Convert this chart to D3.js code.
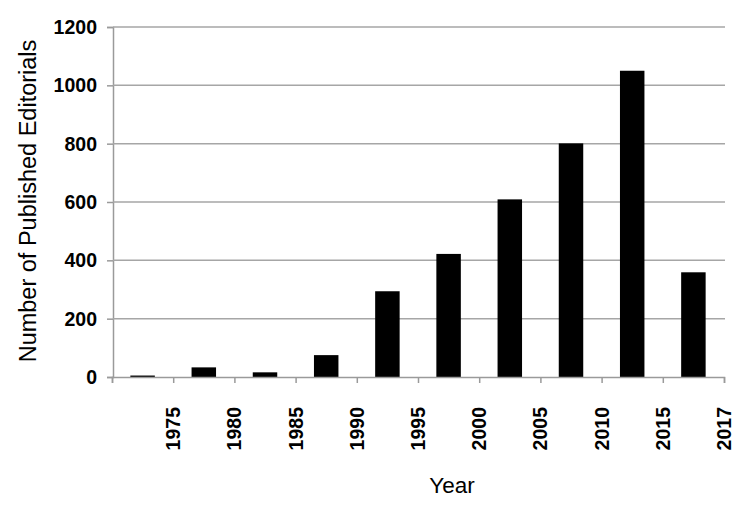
<!DOCTYPE html>
<html><head>
<meta charset="utf-8">
<script src="https://d3js.org/d3.v7.min.js"></script>
<style>
  body { margin: 0; background: #fff; }
  svg text { font-family: "Liberation Sans", Arial, sans-serif; fill: #000; }
  .tick-label { font-weight: bold; }
</style>
</head>
<body>
<svg id="chart" width="750" height="508"></svg>
<script>

// data
const periodEnds = ["1975", "1980", "1985", "1990", "1995", "2000", "2005", "2010", "2015", "2017"];
const editorials = [5, 33, 16, 75, 294, 422, 609, 801, 1050, 359];
const yTicks = [0, 200, 400, 600, 800, 1000, 1200];

const svg = d3.select("#chart");
const plot = {left: 112, right: 724, top: 27, bottom: 377};

// boundaries 0..10, labels sit on the right edge of each period
const xScale = d3.scaleLinear().domain([0, periodEnds.length]).range([plot.left, plot.right]);
const yScale = d3.scaleLinear().domain([0, 1200]).range([plot.bottom, plot.top]);
const bandW = xScale(1) - xScale(0);

// gridlines + y ticks
let leftAxis = d3.axisLeft(yScale)
                 .tickValues(yTicks)
                 .tickSize(6)
                 .tickFormat("");
svg.append("g")
  .attr("transform", "translate(" + (plot.left + 1) + ",0)")
  .call(leftAxis)
  .call(g => g.selectAll("line").attr("stroke", "#9a9a9a").attr("stroke-width", 1.5))
  .call(g => g.select(".domain").attr("stroke", "#9a9a9a").attr("stroke-width", 1.5));

svg.append("g").selectAll("line")
  .data(yTicks.filter(d => d > 0))
  .join("line")
  .attr("x1", plot.left + 1).attr("x2", plot.right + 1)
  .attr("y1", d => yScale(d)).attr("y2", d => yScale(d))
  .attr("stroke", "#a6a6a6").attr("stroke-width", 1.5);

svg.append("g").selectAll("text")
  .data(yTicks)
  .join("text")
  .attr("class", "tick-label")
  .attr("x", 97)
  .attr("y", d => yScale(d) + 7)
  .attr("text-anchor", "end")
  .style("font-size", "19.5px")
  .text(d => d);

// bars
svg.append("g").selectAll("rect")
  .data(editorials)
  .join("rect")
  .attr("x", (d, i) => xScale(i + 0.5) - bandW * 0.2)
  .attr("width", bandW * 0.4)
  .attr("y", d => yScale(d))
  .attr("height", d => yScale(0) - yScale(d))
  .attr("fill", "#000");

// x axis
let bottomAxis = d3.axisBottom(xScale)
                   .tickValues(d3.range(periodEnds.length + 1))
                   .tickSize(6)
                   .tickFormat("");
svg.append("g")
  .attr("transform", "translate(0," + plot.bottom + ")")
  .call(bottomAxis)
  .call(g => g.selectAll("line").attr("stroke", "#9a9a9a").attr("stroke-width", 1.5))
  .call(g => g.select(".domain").attr("stroke", "#9a9a9a").attr("stroke-width", 1.5));

svg.append("g").selectAll("text")
  .data(periodEnds)
  .join("text")
  .attr("class", "tick-label")
  .attr("transform", (d, i) => "translate(" + (xScale(i + 1) + 7) + ",407) rotate(-90)")
  .attr("text-anchor", "end")
  .style("font-size", "19.5px")
  .text(d => d);

// axis titles
svg.append("text")
  .attr("transform", "translate(36,201) rotate(-90)")
  .attr("text-anchor", "middle")
  .style("font-size", "23.5px")
  .text("Number of Published Editorials");

svg.append("text")
  .attr("x", 452).attr("y", 493)
  .attr("text-anchor", "middle")
  .style("font-size", "22.5px")
  .text("Year");

</script>
</body>
</html>
